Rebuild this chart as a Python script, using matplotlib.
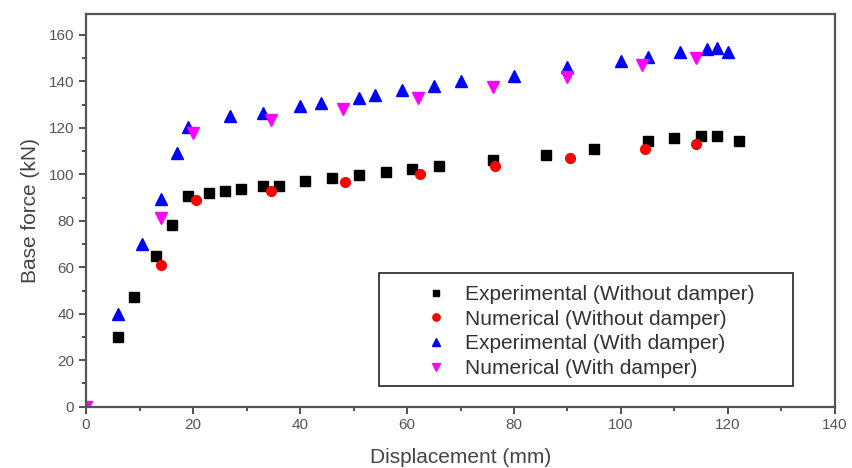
import matplotlib
matplotlib.use('Agg')
import matplotlib.pyplot as plt
from matplotlib.patches import Rectangle

# data
exp_no_x = [6, 9, 13, 16, 19, 23, 26, 29, 33, 36, 41, 46, 51, 56, 61, 66, 76, 86, 95, 105, 110, 115, 118, 122]
exp_no_y = [30, 47, 65, 78, 90.5, 92, 92.7, 93.5, 95, 95, 97, 98.4, 99.6, 101, 102.5, 103.5, 106, 108.5, 111, 114.5, 115.5, 116.5, 116.5, 114.5]

num_no_x = [14, 20.5, 34.5, 48.5, 62.5, 76.5, 90.5, 104.5, 114]
num_no_y = [61, 89, 93, 96.5, 100, 103.5, 107, 111, 113]

exp_d_x = [6, 10.5, 14, 17, 19, 27, 33, 40, 44, 51, 54, 59, 65, 70, 80, 90, 100, 105, 111, 116, 118, 120]
exp_d_y = [40, 70, 89.5, 109, 120.5, 125, 126.5, 129.3, 130.5, 133, 134, 136.5, 138, 140, 142.5, 146, 149, 150.5, 152.5, 154, 154.5, 152.5]

num_d_x = [0, 14, 20, 34.5, 48, 62, 76, 90, 104, 114]
num_d_y = [0, 81, 118, 123.5, 128, 133, 137.5, 142, 147, 150]

plt.rcParams['font.family'] = ['Liberation Sans', 'DejaVu Sans']

fig = plt.figure(figsize=(8.52, 4.68), dpi=100)
ax = fig.add_axes([0.101, 0.131, 0.879, 0.839])

ax.plot(exp_no_x, exp_no_y, 's', color='black', ms=6.5, ls='none', label='Experimental (Without damper)')
ax.plot(num_no_x, num_no_y, 'o', color='red', ms=7, ls='none', label='Numerical (Without damper)')
ax.plot(exp_d_x, exp_d_y, '^', color='blue', ms=8, ls='none', label='Experimental (With damper)')
ax.plot(num_d_x, num_d_y, 'v', color='magenta', ms=8, ls='none', label='Numerical (With damper)')

ax.set_xlim(0, 140)
ax.set_ylim(0, 169)
ax.set_xticks(range(0, 141, 20))
ax.set_yticks(range(0, 161, 20))
ax.set_xticks(range(10, 140, 20), minor=True)
ax.set_yticks(range(10, 170, 20), minor=True)
ax.tick_params(which='major', direction='out', length=5, width=1.2, colors='#333333',
               labelcolor='#555555', labelsize=11)
ax.tick_params(which='minor', direction='out', length=3, width=1.2, colors='#333333')

for s in ax.spines.values():
    s.set_color('#555555')
    s.set_linewidth(1.6)

ax.set_xlabel('Displacement (mm)', fontsize=15, color='#444444', labelpad=11)
ax.set_ylabel('Base force (kN)', fontsize=15, color='#444444', labelpad=6)

# legend box drawn separately, legend itself without frame
ax.add_patch(Rectangle((0.391, 0.053), 0.553, 0.288, transform=ax.transAxes,
                       fill=True, facecolor='white', edgecolor='#222222', lw=1.2, zorder=4))
leg = ax.legend(loc='upper left', bbox_to_anchor=(0.4534, 0.310),
                fontsize=15, frameon=False, borderpad=0, borderaxespad=0,
                labelspacing=0.27, handletextpad=0.9, handlelength=1.0,
                markerscale=0.75)
leg.set_zorder(5)
for t in leg.get_texts():
    t.set_color('#333333')

plt.savefig('out.png', dpi=100)
